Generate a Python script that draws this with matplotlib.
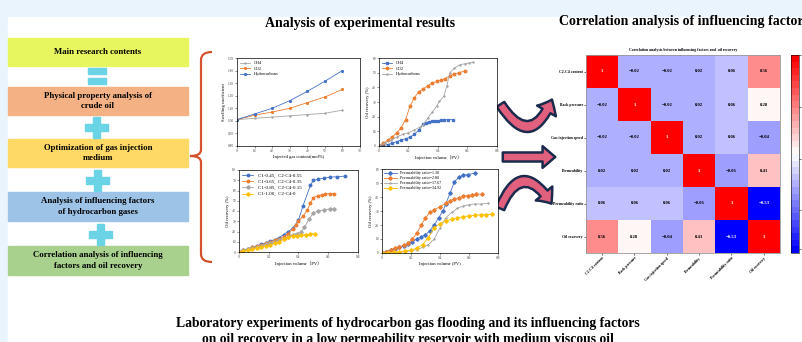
import numpy as np
import matplotlib.pyplot as plt
from matplotlib.patches import Rectangle, FancyArrowPatch, PathPatch
from matplotlib.path import Path

plt.rcParams['font.family'] = ['Liberation Serif', 'Noto Sans CJK SC', 'DejaVu Sans']

W, H = 803, 342

# swelling test
gas_content = [0, 10, 20, 30, 40, 50, 60]
swell_ch4 = [1.01, 1.02, 1.03, 1.04, 1.05, 1.06, 1.085]
swell_co2 = [1.01, 1.045, 1.07, 1.10, 1.145, 1.19, 1.25]
swell_hc = [1.01, 1.055, 1.10, 1.16, 1.235, 1.315, 1.40]

# gas medium flooding
pv_ch4 = [0, 0.03, 0.06, 0.09, 0.12, 0.15, 0.18, 0.21, 0.24, 0.27, 0.30, 0.32, 0.34,
          0.36, 0.38, 0.40, 0.42, 0.44, 0.47, 0.50]
rf_ch4 = [0, 0.5, 1, 2, 3, 4, 5, 6, 8, 11, 15, 16, 16.5, 16.8, 17, 17.2, 17.5, 17.8, 18, 18]
pv_co2 = [0, 0.03, 0.06, 0.09, 0.12, 0.15, 0.18, 0.21, 0.24, 0.27, 0.30, 0.33, 0.36,
          0.39, 0.42, 0.45, 0.48, 0.51, 0.54, 0.58]
rf_co2 = [0, 2, 4, 6, 9, 12.5, 18, 27, 33, 37, 39, 41, 43, 44, 45, 46, 48, 49, 50, 51]
pv_hc = [0, 0.04, 0.08, 0.12, 0.16, 0.20, 0.24, 0.28, 0.30, 0.33, 0.36, 0.39, 0.41,
         0.44, 0.46, 0.48, 0.51, 0.55, 0.58, 0.61, 0.64]
rf_hc = [0, 2, 4, 6, 8, 9, 11, 13, 14.5, 19, 23, 27, 30.5, 34, 41, 50, 53, 55.5, 56, 56.6, 57]

# C1 / C2-C4 composition
pv_c045 = [0, 0.03, 0.06, 0.09, 0.12, 0.15, 0.18, 0.21, 0.24, 0.27, 0.30, 0.33, 0.36,
           0.40, 0.43, 0.48, 0.50, 0.53, 0.57, 0.61, 0.66, 0.71]
rf_c045 = [0, 1.5, 3, 4.5, 6, 7.5, 9, 10.5, 12, 14, 17, 20, 23, 31, 45, 65, 70, 71,
           72, 73, 73.5, 74]
pv_c065 = [0, 0.03, 0.06, 0.09, 0.12, 0.15, 0.18, 0.21, 0.24, 0.27, 0.30, 0.33, 0.36,
           0.38, 0.40, 0.43, 0.46, 0.48, 0.50, 0.53, 0.56, 0.58, 0.61, 0.64]
rf_c065 = [0, 1.5, 3, 4.5, 6, 7, 8.5, 10, 11.5, 13, 15, 18, 22, 26, 30, 35, 41, 48,
           53, 55, 56, 56.5, 57, 57]
pv_c085 = [0, 0.03, 0.06, 0.09, 0.12, 0.15, 0.18, 0.21, 0.24, 0.27, 0.30, 0.33, 0.36,
           0.39, 0.42, 0.44, 0.47, 0.50, 0.53, 0.57, 0.61, 0.64]
rf_c085 = [0, 1.5, 3, 4, 5, 6, 7.5, 9, 10, 11.5, 13, 15, 17, 18, 20, 24, 32, 38, 40,
           41, 42, 42]
pv_c100 = [0, 0.03, 0.06, 0.09, 0.12, 0.15, 0.18, 0.21, 0.24, 0.27, 0.30, 0.33, 0.36,
           0.39, 0.42, 0.45, 0.48, 0.51]
rf_c100 = [0, 1, 2, 3, 4, 5, 6, 7, 8.5, 10, 12.5, 14.5, 15.5, 16, 16.5, 17, 17.5, 18]

# permeability ratio
pv_k130 = [0, 0.03, 0.06, 0.09, 0.12, 0.15, 0.18, 0.21, 0.24, 0.27, 0.30, 0.33, 0.36,
           0.39, 0.42, 0.44, 0.47, 0.50, 0.53, 0.56, 0.59, 0.64]
rf_k130 = [0, 1, 2, 3, 4, 5, 6.5, 8, 10, 11.5, 13, 16, 20, 25, 30, 35, 43, 51, 54,
           55.5, 56, 57]
pv_k280 = [0, 0.03, 0.06, 0.09, 0.12, 0.15, 0.18, 0.21, 0.24, 0.27, 0.30, 0.33, 0.36,
           0.40, 0.44, 0.47, 0.50, 0.53, 0.56, 0.59, 0.62, 0.65, 0.69]
rf_k280 = [0, 1, 2.5, 3.5, 4.5, 5.5, 7, 10, 14, 20, 25, 29, 31, 33, 35.5, 37.5, 38.5,
           39.5, 40.5, 41, 41.5, 42, 42]
pv_k1767 = [0, 0.04, 0.08, 0.12, 0.16, 0.20, 0.24, 0.28, 0.32, 0.36, 0.40, 0.44, 0.48,
            0.52, 0.56, 0.60, 0.64, 0.68, 0.73]
rf_k1767 = [0, 0, 0.3, 0.5, 1, 1.5, 2.5, 4, 6, 10, 18, 25, 29, 32, 33.5, 34.5, 35,
            35, 35.5]
pv_k3492 = [0, 0.04, 0.08, 0.12, 0.16, 0.20, 0.24, 0.28, 0.32, 0.36, 0.40, 0.44, 0.48,
            0.52, 0.56, 0.60, 0.64, 0.68, 0.72, 0.76]
rf_k3492 = [0, 0.3, 0.6, 1, 1.5, 2, 3.5, 6, 11, 18, 21, 23, 24, 25, 26, 26.5, 27,
            27.3, 27.5, 27.7]

# correlation matrix
factors = ["C2-C4 content", "Back pressure", "Gas injection speed", "Permeability",
           "Permeability ratio", "Oil recovery"]
corr = np.array([
    [1, -0.02, -0.02, 0.02, 0.06, 0.56],
    [-0.02, 1, -0.02, 0.02, 0.06, 0.28],
    [-0.02, -0.02, 1, 0.02, 0.06, -0.04],
    [0.02, 0.02, 0.02, 1, -0.06, 0.41],
    [0.06, 0.06, 0.06, -0.06, 1, -0.53],
    [0.56, 0.28, -0.04, 0.41, -0.53, 1],
])

steps = ["Main research contents", "Physical property analysis of\ncrude oil",
         "Optimization of gas injection\nmedium",
         "Analysis of influencing factors\nof hydrocarbon gases",
         "Correlation analysis of influencing\nfactors and oil recovery"]
step_colors = ["#e7f65e", "#f4b183", "#ffd966", "#9dc3e6", "#a9d18e"]
step_rows = [(38, 66), (87, 115), (139, 167), (192, 221), (246, 275)]

BLUE, ORANGE, GRAY, YELLOW = "#4472c4", "#ed7d31", "#a5a5a5", "#ffc000"
CYAN = "#6bd3e6"

fig = plt.figure(figsize=(W / 100, H / 100), dpi=100)
fig.patch.set_facecolor("#e9f4fc")


def px_axes(x0, y0, x1, y1):
    return fig.add_axes([x0 / W, 1 - y1 / H, (x1 - x0) / W, (y1 - y0) / H])


# pixel-space canvas for the boxes, brace and arrows
bg = fig.add_axes([0, 0, 1, 1])
bg.set_xlim(0, W)
bg.set_ylim(H, 0)
bg.axis("off")
bg.add_patch(Rectangle((8, 17), W, H, color="white", zorder=0))

for text, col, (y0, y1) in zip(steps, step_colors, step_rows):
    bg.add_patch(Rectangle((8, y0), 180, y1 - y0, color=col, zorder=1))
    bg.text(98, (y0 + y1) / 2, text, ha="center", va="center", fontsize=6.3,
            fontweight="bold", linespacing=1.45, zorder=2)

# equals sign and plus signs
for yb in (68, 78):
    bg.add_patch(Rectangle((88, yb), 18, 5.5, color=CYAN, zorder=1))
for cx, cy in [(96.5, 127), (97.5, 180), (100.5, 234)]:
    bg.add_patch(Rectangle((cx - 11.5, cy - 3.5), 23, 7, color=CYAN, zorder=1))
    bg.add_patch(Rectangle((cx - 3.5, cy - 10.5), 7, 21, color=CYAN, zorder=1))

# curly brace
brace = Path([(212, 52), (201, 52), (201, 60), (201, 150), (201, 156), (190, 156),
              (201, 156), (201, 162), (201, 254), (201, 262), (212, 262)],
             [Path.MOVETO, Path.CURVE3, Path.CURVE3, Path.LINETO, Path.CURVE3,
              Path.CURVE3, Path.CURVE3, Path.CURVE3, Path.LINETO, Path.CURVE3,
              Path.CURVE3])
bg.add_patch(PathPatch(brace, fill=False, ec="#d4532c", lw=1.6, zorder=2))

# arrows between the curves and the heatmap
arrow_kw = dict(arrowstyle="simple,head_length=0.7,head_width=1.2,tail_width=0.5",
                mutation_scale=13, fc="#e0607e", ec="#1c2b4d", lw=1.8, zorder=3)
bg.add_patch(FancyArrowPatch((499, 102), (553, 97), connectionstyle="arc3,rad=1.0",
                             **arrow_kw))
bg.add_patch(FancyArrowPatch((500, 157), (558, 157), **arrow_kw))
bg.add_patch(FancyArrowPatch((499, 211), (553, 206), connectionstyle="arc3,rad=-1.0",
                             **arrow_kw))

bg.text(360, 23, "Analysis of experimental results", ha="center", va="center",
        fontsize=10, fontweight="bold")
bg.text(559, 22, "Correlation analysis of influencing factors", ha="left",
        va="center", fontsize=10, fontweight="bold")
bg.text(408, 323, "Laboratory experiments of hydrocarbon gas flooding and its "
        "influencing factors", ha="center", va="center", fontsize=9.8, fontweight="bold")
bg.text(408, 339, "on oil recovery in a low permeability reservoir with medium "
        "viscous oil", ha="center", va="center", fontsize=9.8, fontweight="bold")


def style(ax, xlabel, ylabel):
    ax.tick_params(labelsize=2.6, length=1.2, width=0.4, pad=1, colors="#444444")
    for s in ax.spines.values():
        s.set_linewidth(0.5)
    ax.set_xlabel(xlabel, fontsize=3.3, labelpad=1.5)
    ax.set_ylabel(ylabel, fontsize=3.3, labelpad=1.5)


line_kw = dict(lw=0.6, ms=1.8)

ax1 = px_axes(237, 58, 360, 146)
ax1.plot(gas_content, swell_ch4, marker="+", color=GRAY, label="CH4", **line_kw)
ax1.plot(gas_content, swell_co2, marker="*", color=ORANGE, label="CO2", **line_kw)
ax1.plot(gas_content, swell_hc, marker="*", color=BLUE, label="Hydrocarbons", **line_kw)
ax1.set_xlim(0, 70)
ax1.set_ylim(0.8, 1.5)
ax1.set_xticks(range(0, 71, 10))
ax1.set_yticks(np.arange(0.8, 1.51, 0.1))
ax1.yaxis.set_major_formatter("{x:.2f}")
style(ax1, "Injected gas content(mol%)", "Swelling coefficient")
ax1.legend(loc="upper left", fontsize=3.2, frameon=False, handlelength=2.2,
           borderaxespad=0.3, labelspacing=0.3)

ax2 = px_axes(379, 58, 497, 146)
ax2.plot(pv_ch4, rf_ch4, marker="s", color=BLUE, label="CH4", **line_kw)
ax2.plot(pv_co2, rf_co2, marker="o", color=ORANGE, label="CO2", **line_kw)
ax2.plot(pv_hc, rf_hc, marker="+", color=GRAY, label="Hydrocarbons", **line_kw)
ax2.set_xlim(0, 0.8)
ax2.set_ylim(0, 60)
ax2.set_xticks([0, 0.2, 0.4, 0.6, 0.8], ["0", "0.2", "0.4", "0.6", "0.8"])
style(ax2, "Injection volume（PV）", "Oil recovery (%)")
ax2.legend(loc="upper left", fontsize=3.2, frameon=False, handlelength=2.2,
           borderaxespad=0.3, labelspacing=0.3)

ax3 = px_axes(239, 170, 358, 252)
ax3.plot(pv_c045, rf_c045, marker="o", color=BLUE, label="C1-0.45,  C2-C4-0.55", **line_kw)
ax3.plot(pv_c065, rf_c065, marker="o", color=ORANGE, label="C1-0.65,  C2-C4-0.35", **line_kw)
ax3.plot(pv_c085, rf_c085, marker="D", color=GRAY, label="C1-0.85,  C2-C4-0.15", **line_kw)
ax3.plot(pv_c100, rf_c100, marker="D", color=YELLOW, label="C1-1.00,  C2-C4-0", **line_kw)
ax3.set_xlim(0, 0.8)
ax3.set_ylim(0, 80)
ax3.set_xticks([0, 0.2, 0.4, 0.6, 0.8], ["0", "0.2", "0.4", "0.6", "0.8"])
ax3.set_yticks(range(0, 81, 10))
style(ax3, "Injection volume（PV）", "Oil recovery (%)")
ax3.legend(loc="upper left", fontsize=3.6, frameon=False, handlelength=2.2,
           borderaxespad=0.3, labelspacing=0.3)

ax4 = px_axes(382, 169, 498, 253)
ax4.plot(pv_k130, rf_k130, marker="D", color=BLUE, label="Permeability ratio=1.30", **line_kw)
ax4.plot(pv_k280, rf_k280, marker="D", color=ORANGE, label="Permeability ratio=2.80", **line_kw)
ax4.plot(pv_k1767, rf_k1767, marker="+", color=GRAY, label="Permeability ratio=17.67", **line_kw)
ax4.plot(pv_k3492, rf_k3492, marker="D", color=YELLOW, label="Permeability ratio=34.92", **line_kw)
ax4.set_xlim(0, 0.8)
ax4.set_ylim(0, 60)
ax4.set_xticks([0, 0.2, 0.4, 0.6, 0.8], ["0", "0.2", "0.4", "0.6", "0.8"])
style(ax4, "Injection volume (PV)", "Oil recovery (%)")
ax4.legend(loc="upper left", fontsize=3.0, frameon=False, handlelength=3,
           borderaxespad=0.1, labelspacing=0.25)

# correlation heatmap
axh = px_axes(586, 55, 780, 253)
cmap = plt.get_cmap("bwr", 30)
im = axh.imshow(corr, cmap=cmap, vmin=-0.53, vmax=1, aspect="auto")
for i in range(len(factors)):
    for j in range(len(factors)):
        v = corr[i, j]
        txt = "1" if v == 1 else f"{v:.2f}".replace("-", "−")
        axh.text(j, i, txt, ha="center", va="center", fontsize=3.4, fontweight="bold",
                 color="white" if (v == 1 or v < -0.3) else "black")
axh.set_xticks(range(len(factors)))
axh.set_yticks(range(len(factors)))
axh.set_xticklabels(factors, rotation=45, ha="right", rotation_mode="anchor",
                    fontsize=2.8, fontweight="bold")
axh.set_yticklabels(factors, fontsize=2.8, fontweight="bold")
axh.tick_params(length=1.2, width=0.4, pad=1)
for s in axh.spines.values():
    s.set_color("#999999")
    s.set_linewidth(0.6)
axh.set_title("Correlation analysis between influencing factors and  oil recovery",
              fontsize=2.8, fontweight="bold", pad=3)

cax = px_axes(791, 55, 799, 253)
cb = fig.colorbar(im, cax=cax)
cb.set_ticks([1.0, 0.6, 0.2, -0.2, -0.5])
cb.ax.tick_params(labelsize=2.6, length=1.2, width=0.4, pad=1)
cb.outline.set_linewidth(0.4)

fig.savefig("out.png", dpi=100)
